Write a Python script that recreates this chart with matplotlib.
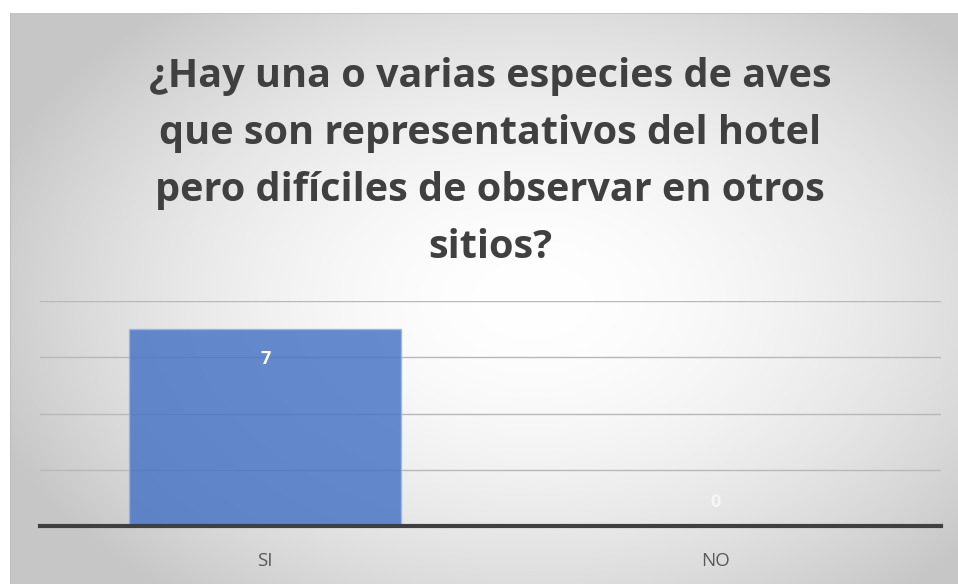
import numpy as np
import matplotlib
matplotlib.use("Agg")
import matplotlib.pyplot as plt

categories = ["SI", "NO"]
values = [7, 0]
title = "¿Hay una o varias especies de aves\nque son representativos del hotel\npero difíciles de observar en otros\nsitios?"

W, H = 958, 584
fig = plt.figure(figsize=(W / 100, H / 100), dpi=100)
fig.patch.set_facecolor("white")

# background panel with radial gradient
x0 = 10 / W
bg = fig.add_axes([x0, 0.0, 1 - x0, 1 - 13 / H], zorder=0)
ny, nx = 300, 500
yy, xx = np.mgrid[0:ny, 0:nx]
cx, cy = nx * 0.55, ny * 0.5
r = np.sqrt(((xx - cx) / (nx * 0.6)) ** 2 + ((yy - cy) / (ny * 0.66)) ** 2)
r = np.clip(r, 0, 1)
v = 1.0 - 0.22 * r ** 1.8
img = np.dstack([v, v, v])
bg.imshow(img, aspect="auto", extent=[0, 1, 0, 1], interpolation="bilinear")
bg.set_xlim(0, 1)
bg.set_ylim(0, 1)
bg.axis("off")
bg.plot([0, 0], [0, 1], color="#bdbdbd", lw=1.5)
bg.plot([0, 1], [1, 1], color="#c4c4c4", lw=1.5)

fig.text(0.5115, 1 - 162 / H, title, ha="center", va="center",
         fontsize=28.5, fontweight="bold", color="#404040",
         family="Open Sans", linespacing=1.61)

ax = fig.add_axes([40 / W, 1 - 526 / H, (941 - 40) / W, (526 - 301) / H], zorder=1)
ax.patch.set_alpha(0)
xpos = np.arange(len(categories))
ax.bar(xpos, values, width=0.604, color="#4472C4", alpha=0.82,
       edgecolor="#9db4e0", linewidth=1.0, zorder=2)
ax.set_xlim(-0.5, 1.5)
ax.set_ylim(0, 8)
ax.set_yticks([0, 2, 4, 6, 8])
ax.yaxis.grid(True, color="#b8b8b8", lw=1.0, zorder=1)
ax.set_axisbelow(True)
ax.tick_params(axis="y", length=0, labelleft=False)
ax.tick_params(axis="x", length=0, pad=19, labelsize=13.5, labelcolor="#595959")
ax.set_xticks(xpos)
ax.set_xticklabels(categories, family="Open Sans")
for s in ["top", "right", "left"]:
    ax.spines[s].set_visible(False)
ax.spines["bottom"].set_color("#404040")
ax.spines["bottom"].set_linewidth(3)
ax.spines["bottom"].set_zorder(3)

for xi, val in zip(xpos, values):
    if val > 0:
        ax.text(xi, val - 1.05, str(val), ha="center", va="center", color="white",
                fontsize=13, fontweight="bold", family="Open Sans", zorder=4)
    else:
        ax.text(xi, val + 0.85, str(val), ha="center", va="center", color="#f5f5f5",
                fontsize=13, fontweight="bold", family="Open Sans", zorder=4)

fig.savefig("out.png", dpi=100)
